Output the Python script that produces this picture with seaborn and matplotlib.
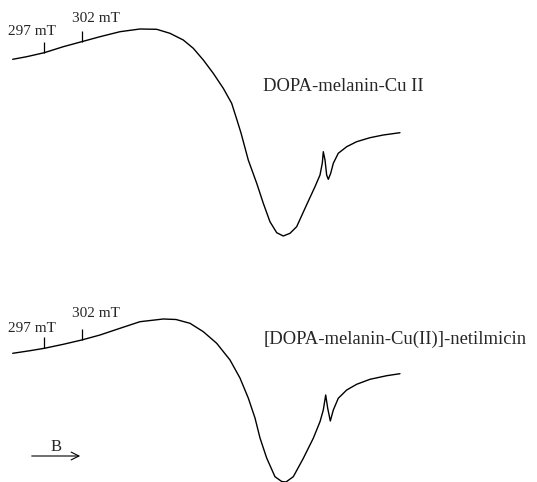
"""
EPR spectra of DOPA-melanin-Cu(II) with and without netilmicin.
"""

import numpy as np
import pandas as pd

import matplotlib.pyplot as plt
import seaborn as sns

# magnetic field (mT) and first-derivative signal (a.u.)
field_cu = [
    292.78, 294.65, 297.00, 299.54, 302.00, 304.45, 307.12, 309.79,
    312.03, 313.80, 315.58, 316.92, 318.26, 319.59, 320.93, 322.05,
    322.76, 323.30, 324.27, 325.40, 326.28, 327.17, 328.07, 328.95,
    329.85, 330.74, 332.12, 333.19, 333.86, 334.17, 334.30, 334.53,
    334.75, 334.97, 335.29, 335.64, 336.30, 337.43, 338.76, 340.54,
    342.32, 344.55
]
signal_cu = [
    73.7, 76.3, 80.3, 86.3, 91.3, 96.3, 101.3, 104.0,
    103.7, 99.7, 93.0, 84.7, 73.0, 59.7, 44.7, 29.7,
    13.0, 0.0, -27.0, -50.3, -70.3, -88.7, -99.7, -103.0,
    -100.3, -93.7, -71.0, -53.7, -42.0, -30.0, -18.7, -27.0,
    -42.0, -46.3, -40.3, -30.3, -20.3, -13.7, -8.7, -4.7,
    -2.0, 0.3
]

field_net = [
    292.78, 295.09, 297.00, 299.54, 302.00, 304.45, 307.12, 309.79,
    312.91, 314.61, 316.48, 318.26, 320.05, 321.83, 323.16, 324.27,
    325.17, 325.84, 326.73, 327.84, 328.74, 329.31, 330.29, 331.63,
    332.96, 333.86, 334.30, 334.62, 334.89, 335.24, 335.64, 336.30,
    337.43, 338.76, 340.54, 342.78, 344.55
]
signal_net = [
    20.7, 23.3, 25.7, 29.7, 34.0, 39.0, 45.7, 52.3,
    55.0, 54.5, 50.7, 42.3, 30.7, 14.0, -4.0, -24.0,
    -44.0, -64.0, -84.0, -102.7, -107.5, -108.0, -102.7, -84.3,
    -64.3, -47.7, -36.0, -21.0, -34.3, -47.0, -36.0, -24.3,
    -16.0, -10.3, -5.3, -1.7, 0.3
]

spectrum_labels = ["DOPA-melanin-Cu II", "[DOPA-melanin-Cu(II)]-netilmicin"]
marker_fields = [297, 302]
marker_labels = ["297 mT", "302 mT"]

sns.set_style("white")
plt.rcParams["font.family"] = ["Liberation Serif", "DejaVu Serif"]


def draw_spectrum(ax, field, signal, label, label_lift):
    """
    Draw one EPR spectrum with its field markers and label.
    """

    df = pd.DataFrame({"B": field, "signal": signal})

    sns.lineplot(
        data=df,
        x="B",
        y="signal",
        ax=ax,
        color="black",
        linewidth=1.0,
        estimator=None,
        clip_on=False
    )

    # short vertical field markers sitting on the curve
    for pos, text, lift, dx in zip(marker_fields, marker_labels,
                                   label_lift, [-4.85, -1.3]):
        base = np.interp(pos, field, signal)
        ax.vlines(pos, base, base + 11, color="black", linewidth=0.9)
        ax.text(
            pos + dx, base + 11 + lift, text,
            fontsize=11, ha="left", va="baseline"
        )

    ax.text(
        326.28, label[1], label[0],
        fontsize=13.4, ha="left", va="baseline"
    )

    ax.set_xlim(291.08, 362.87)
    ax.set_ylim(-108, 133)
    ax.set_axis_off()


fig = plt.figure(figsize=(5.37, 4.82), dpi=100)

ax_top = fig.add_axes([0, 0.5, 1, 0.5])
ax_bot = fig.add_axes([0, 0.0, 1, 0.5])

draw_spectrum(ax_top, field_cu, signal_cu,
              (spectrum_labels[0], 42.3), [6.5, 9.0])
draw_spectrum(ax_bot, field_net, signal_net,
              (spectrum_labels[1], 30.0), [5.7, 11.7])

# field direction arrow
ax_bot.annotate(
    "",
    xy=(302.17, -82),
    xytext=(294.95, -82),
    arrowprops=dict(arrowstyle="->", color="black", lw=0.8,
                    mutation_scale=14)
)
ax_bot.text(298.56, -77, "B", fontsize=12, ha="center", va="baseline")

fig.savefig("out.png", dpi=100)
